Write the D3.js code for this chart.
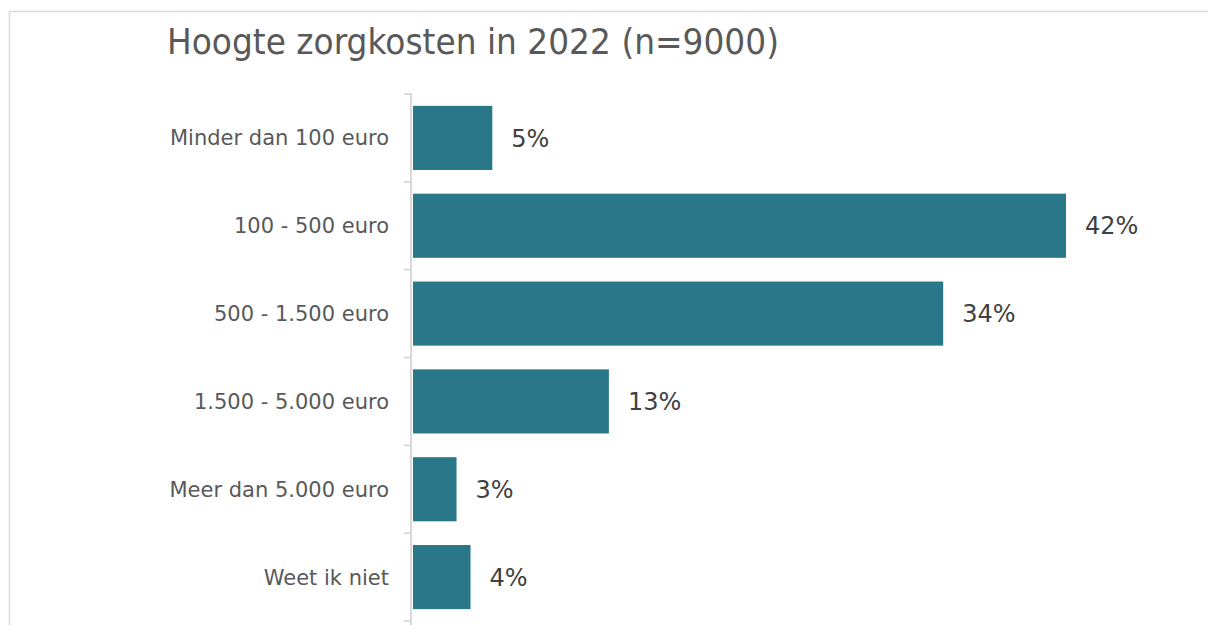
<!DOCTYPE html>
<html><head><meta charset="utf-8">
<script src="https://cdn.jsdelivr.net/npm/d3@7"></script>
<style>html,body{margin:0;padding:0;background:#fff;}svg{display:block;}</style>
</head><body>
<svg id="chart" width="1208" height="625"></svg>
<script>
const categories = ["Minder dan 100 euro","100 - 500 euro","500 - 1.500 euro","1.500 - 5.000 euro","Meer dan 5.000 euro","Weet ik niet"];
const values = [5.1, 42.0, 34.1, 12.6, 2.8, 3.7];
const titleText = "Hoogte zorgkosten in 2022 (n=9000)";

const svg = d3.select("#chart");
const font = "'DejaVu Sans', Verdana, sans-serif";

// frame
svg.append("rect").attr("x",9.5).attr("y",11.5).attr("width",1300).attr("height",700)
  .attr("fill","#fff").attr("stroke","#d9d9d9").attr("stroke-width",1.5);

svg.append("text").attr("x",167).attr("y",54).text(titleText)
  .attr("font-family",font).attr("font-size",35).attr("fill","#595959")
  .attr("textLength",612).attr("lengthAdjust","spacingAndGlyphs");

const y = d3.scaleBand().domain(categories).range([94,621]).paddingInner(0.27).paddingOuter(0.135);
const yb = d3.scaleBand().domain(categories).range([94,621]);
const x = d3.scaleLinear().domain([0,42]).range([413,1066]);

// axis
const ax = svg.append("g");
ax.append("line").attr("x1",411).attr("x2",411).attr("y1",94).attr("y2",640)
  .attr("stroke","#d9d9d9").attr("stroke-width",2);
const bounds = categories.map(c=>yb(c)).concat([yb(categories[categories.length-1])+yb.step()]);
ax.selectAll("line.tick").data(bounds).join("line").attr("class","tick")
  .attr("x1",404).attr("x2",412).attr("y1",d=>d).attr("y2",d=>d)
  .attr("stroke","#d9d9d9").attr("stroke-width",2);

ax.selectAll("text.cat").data(categories).join("text").attr("class","cat")
  .attr("x",389).attr("y",d=>yb(d)+yb.bandwidth()/2).attr("dy","0.36em")
  .attr("text-anchor","end").attr("font-family",font).attr("font-size",21)
  .attr("fill","#595959").text(d=>d);

const data = categories.map((c,i)=>({c, v: values[i]}));
svg.selectAll("rect.bar").data(data).join("rect").attr("class","bar")
  .attr("x",x(0)).attr("y",d=>y(d.c)).attr("width",d=>x(d.v)-x(0)).attr("height",y.bandwidth())
  .attr("fill","#2a7789");

svg.selectAll("text.val").data(data).join("text").attr("class","val")
  .attr("x",d=>x(d.v)+19).attr("y",d=>y(d.c)+y.bandwidth()/2).attr("dy","0.36em")
  .attr("font-family",font).attr("font-size",24).attr("fill","#404040")
  .text(d=>Math.round(d.v)+"%");
</script>
</body></html>
